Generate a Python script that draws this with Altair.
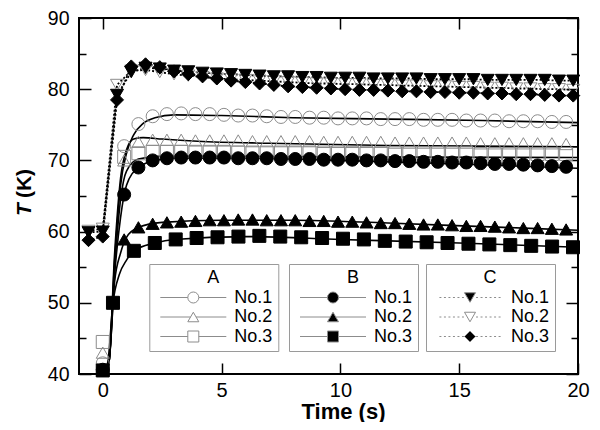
import altair as alt
import pandas as pd

# ---------------- values ----------------
SERIES = ["A1", "A2", "A3", "B1", "B2", "B3", "C1", "C2", "C3"]
LEG_LABELS = ["No.1", "No.2", "No.3"]

# sampling times of the measured points (s)
T_C = [-0.6, 0.0, 0.6, 1.2, 1.8, 2.4, 3.0, 3.6, 4.2, 4.8, 5.4, 6.0, 6.6, 7.2, 7.8,
       8.4, 9.0, 9.6, 10.2, 10.8, 11.4, 12.0, 12.6, 13.2, 13.8, 14.4, 15.0, 15.6,
       16.2, 16.8, 17.4, 18.0, 18.6, 19.2, 19.8]
T_AB = [0.0, 0.9, 1.5, 2.1, 2.7, 3.3, 3.9, 4.5, 5.1, 5.7, 6.3, 6.9, 7.5, 8.1,
        8.7, 9.3, 9.9, 10.5, 11.1, 11.7, 12.3, 12.9, 13.5, 14.1, 14.7, 15.3, 15.9,
        16.5, 17.1, 17.7, 18.3, 18.9, 19.5]
T_B3 = [0.0, 0.43, 1.31, 2.19, 3.07, 3.95, 4.83, 5.71, 6.59, 7.47, 8.35, 9.23,
        10.11, 10.99, 11.87, 12.75, 13.63, 14.51, 15.39, 16.27, 17.15, 18.03,
        18.91, 19.79]

# measured temperatures (K)
A1 = [41.5, 72.0, 75.1, 76.2, 76.5, 76.6, 76.5, 76.5, 76.4, 76.3, 76.3, 76.2,
      76.1, 76.1, 76.0, 76.0, 75.9, 75.9, 75.9, 75.8, 75.8, 75.8, 75.7, 75.7, 75.7,
      75.6, 75.6, 75.6, 75.5, 75.5, 75.5, 75.4, 75.4]
A2 = [43.0, 70.0, 72.6, 72.9, 72.9, 72.9, 72.8, 72.8, 72.8, 72.8, 72.7, 72.7,
      72.7, 72.7, 72.7, 72.6, 72.6, 72.6, 72.6, 72.6, 72.5, 72.5, 72.5, 72.5, 72.5,
      72.5, 72.4, 72.4, 72.4, 72.4, 72.4, 72.4, 72.3]
A3 = [44.5, 70.5, 71.0, 71.2, 71.2, 71.2, 71.2, 71.2, 71.2, 71.1, 71.1, 71.1,
      71.1, 71.1, 71.1, 71.1, 71.1, 71.0, 71.0, 71.0, 71.0, 71.0, 71.0, 71.0, 71.0,
      71.0, 70.9, 70.9, 70.9, 70.9, 70.9, 70.9, 70.9]
B1 = [40.6, 65.2, 69.0, 70.0, 70.3, 70.4, 70.4, 70.4, 70.4, 70.3, 70.3, 70.3,
      70.2, 70.2, 70.2, 70.1, 70.1, 70.1, 70.0, 70.0, 69.9, 69.9, 69.8, 69.8, 69.7,
      69.7, 69.6, 69.5, 69.5, 69.4, 69.3, 69.2, 69.1]
B2 = [40.5, 58.9, 60.6, 61.1, 61.3, 61.4, 61.5, 61.6, 61.6, 61.7, 61.7, 61.6,
      61.6, 61.6, 61.5, 61.5, 61.4, 61.4, 61.3, 61.2, 61.2, 61.1, 61.0, 61.0, 60.9,
      60.8, 60.8, 60.7, 60.6, 60.5, 60.5, 60.4, 60.3]
B3 = [40.5, 50.0, 57.3, 58.4, 58.9, 59.1, 59.2, 59.3, 59.4, 59.3, 59.2, 59.1, 59.0,
      58.9, 58.7, 58.6, 58.5, 58.4, 58.3, 58.2, 58.1, 58.0, 57.9, 57.8]
C1 = [59.9, 60.0, 79.2, 82.4, 83.0, 82.9, 82.6, 82.5, 82.3, 82.2, 82.1, 82.0, 81.9,
      81.8, 81.8, 81.7, 81.7, 81.6, 81.6, 81.6, 81.5, 81.5, 81.5, 81.5, 81.4, 81.4,
      81.4, 81.4, 81.3, 81.3, 81.3, 81.3, 81.3, 81.2, 81.2]
C2 = [60.1, 60.4, 80.6, 82.6, 82.7, 82.4, 82.1, 81.9, 81.7, 81.5, 81.4, 81.3, 81.2,
      81.1, 81.0, 80.9, 80.8, 80.8, 80.7, 80.7, 80.6, 80.6, 80.5, 80.5, 80.4, 80.4,
      80.3, 80.3, 80.2, 80.2, 80.1, 80.1, 80.0, 80.0, 79.9]
C3 = [58.8, 59.3, 78.5, 83.2, 83.5, 83.1, 82.5, 82.1, 81.8, 81.5, 81.2, 81.0, 80.8,
      80.6, 80.4, 80.3, 80.2, 80.1, 80.0, 79.9, 79.9, 79.8, 79.7, 79.7, 79.6, 79.6,
      79.5, 79.5, 79.4, 79.4, 79.3, 79.3, 79.2, 79.1, 79.1]

# solid (calculated) curves
LA1_T = [0.0, 0.25, 0.5, 0.75, 1.0, 1.3, 1.7, 2.2, 3.0, 5.0, 8.0, 12.0, 16.0, 20.0]
LA1 = [40.5, 41.5, 56.0, 66.5, 71.0, 73.6, 75.2, 76.0, 76.4, 76.3, 76.0, 75.8, 75.6, 75.3]
LA2_T = [0.0, 0.25, 0.5, 0.75, 1.0, 1.3, 1.7, 2.5, 4.0, 7.0, 12.0, 20.0]
LA2 = [40.5, 41.5, 57.0, 67.5, 71.5, 73.0, 73.2, 73.0, 72.7, 72.4, 72.1, 71.9]
LA3_T = [0.0, 0.25, 0.5, 0.75, 1.0, 1.5, 2.5, 5.0, 10.0, 20.0]
LA3 = [40.5, 41.5, 55.0, 64.5, 68.5, 70.2, 70.6, 70.6, 70.5, 70.4]
LB1_T = [0.0, 0.25, 0.5, 0.75, 1.0, 1.5, 2.2, 3.0, 6.0, 10.0, 15.0, 20.0]
LB1 = [40.5, 41.5, 54.0, 62.0, 66.5, 69.0, 70.0, 70.3, 70.3, 70.0, 69.5, 68.9]
LB2_T = [0.0, 0.25, 0.5, 0.75, 1.0, 1.5, 2.5, 5.0, 8.0, 12.0, 16.0, 20.0]
LB2 = [40.5, 41.5, 53.0, 57.0, 59.2, 60.6, 61.3, 61.6, 61.6, 61.2, 60.7, 60.2]
LB3_T = [0.0, 0.2, 0.43, 0.7, 1.0, 1.31, 2.2, 3.0, 6.0, 10.0, 15.0, 20.0]
LB3 = [40.5, 41.5, 50.0, 54.0, 56.0, 57.3, 58.4, 58.9, 59.3, 58.9, 58.4, 57.8]

X_TICKS = [0, 5, 10, 15, 20]
Y_TICKS = [40, 50, 60, 70, 80, 90]
Y_MINOR = [45, 55, 65, 75, 85]

# ---------------- styling ----------------
FONT = "Liberation Sans"
GRAY = "#8c8c8c"
W, H = 499, 356


def long_frame(groups):
    rows = []
    for name, ts, vs in groups:
        for t, v in zip(ts, vs):
            rows.append({"series": name, "t": t, "T": v})
    return pd.DataFrame(rows)


pts = long_frame([("A3", T_AB, A3), ("A2", T_AB, A2), ("A1", T_AB, A1),
                  ("B1", T_AB, B1), ("B2", T_AB, B2), ("B3", T_B3, B3),
                  ("C2", T_C, C2), ("C1", T_C, C1), ("C3", T_C, C3)])
cdf = long_frame([("C1", T_C, C1), ("C2", T_C, C2), ("C3", T_C, C3)])
mdf = long_frame([("A1", LA1_T, LA1), ("A2", LA2_T, LA2), ("A3", LA3_T, LA3),
                  ("B1", LB1_T, LB1), ("B2", LB2_T, LB2), ("B3", LB3_T, LB3)])
legdf = pd.DataFrame({"lab": LEG_LABELS, "t": [5, 5, 5], "T": [60, 60, 60]})

xscale = alt.Scale(domain=[-1, 20], nice=False, zero=False)
yscale = alt.Scale(domain=[40, 90], nice=False, zero=False)

SHAPES = ["circle", "triangle-up", "square", "circle", "triangle-up", "square",
          "triangle-down", "triangle-down", "diamond"]
FILLS = ["transparent", "transparent", "transparent", "black", "black", "black",
         "black", "transparent", "black"]
STROKES = [GRAY, GRAY, GRAY, "black", "black", "black", "black", GRAY, "black"]
SIZES = [169, 169, 132, 160, 169, 132, 144, 144, 160]

TICK = dict(labels=False, domain=False, grid=False, ticks=True, tickColor="black",
            tickWidth=1.5, title=None)

ax_x_main = alt.Axis(orient="bottom", values=X_TICKS, ticks=False, tickSize=0,
                     domain=False, grid=False, labelFont=FONT, labelFontSize=20,
                     labelColor="black", labelPadding=6, labelFlush=False,
                     title="Time (s)", titleFont=FONT, titleFontSize=22,
                     titleFontWeight="bold", titleColor="black", titleX=264,
                     titleY=44, titleBaseline="alphabetic", titleAlign="center")
ax_y_main = alt.Axis(orient="left", values=Y_TICKS, ticks=False, tickSize=0,
                     domain=False, grid=False, labelFont=FONT, labelFontSize=19.5,
                     labelColor="black", labelPadding=10, title="(K)",
                     titleFont=FONT, titleFontSize=21, titleFontWeight="bold",
                     titleColor="black", titleAngle=270, titleX=-55, titleY=165,
                     titleAlign="center", titleBaseline="middle")

# custom legend symbols: line sample + marker, in symbol units
P_CIRCLE = "M1,0A1,1,0,1,1,-1,0A1,1,0,1,1,1,0Z"
P_TRI_UP = "M0,-0.866L-1,0.866L1,0.866Z"
P_SQUARE = "M-1,-1L1,-1L1,1L-1,1Z"
P_TRI_DN = "M0,0.866L-1,-0.866L1,-0.866Z"
P_DIAMOND = "M-1,0L0,-1L1,0L0,1Z"


def solid(a, b=6):
    return f"M{-b},0L{-a},0M{a},0L{b},0"


def dotted(a, b=6, dash=0.36, gap=0.46):
    segs = []
    x = a
    while x < b - 1e-9:
        e = min(x + dash, b)
        segs.append(f"M{x:.2f},0L{e:.2f},0M{-x:.2f},0L{-e:.2f},0")
        x += dash + gap
    return "".join(segs)


SOLID_PATHS = [solid(1) + P_CIRCLE, solid(0.5) + P_TRI_UP, solid(1) + P_SQUARE]
DOT_PATHS = [dotted(1.1) + P_TRI_DN, dotted(1.1) + P_TRI_DN, dotted(1.1) + P_DIAMOND]


def legend_props(title, lx, **extra):
    d = dict(title=title, orient="none", legendX=lx, legendY=246,
             direction="vertical", titleAnchor="middle", titleFont=FONT,
             titleFontSize=18, titleFontWeight="normal", titleColor="black",
             titlePadding=1.5, labelFont=FONT, labelFontSize=18,
             labelColor="black", labelExpr="datum.label + ' '",
             strokeColor="#9a9a9a", fillColor="white", padding=5,
             symbolSize=121, symbolStrokeWidth=1, symbolOffset=30,
             labelOffset=32, rowPadding=1.5, symbolOpacity=1,
             symbolStrokeColor=GRAY)
    d.update(extra)
    return alt.Legend(**d)


clines = alt.Chart(cdf).mark_line(color="black", strokeWidth=1.8,
                                  strokeDash=[2, 2]).encode(
    x=alt.X("t:Q", scale=xscale, axis=ax_x_main),
    y=alt.Y("T:Q", scale=yscale, axis=ax_y_main),
    detail="series:N",
)

mlines = alt.Chart(mdf).mark_line(color="black", strokeWidth=1.6,
                                  interpolate="monotone").encode(
    x=alt.X("t:Q", scale=xscale,
            axis=alt.Axis(orient="top", offset=-H, values=X_TICKS, tickSize=11, **TICK)),
    y=alt.Y("T:Q", scale=yscale,
            axis=alt.Axis(orient="right", offset=-W, values=Y_TICKS, tickSize=12, **TICK)),
    detail="series:N",
)

points = alt.Chart(pts).mark_point(strokeWidth=1, opacity=1).encode(
    x=alt.X("t:Q", scale=xscale,
            axis=alt.Axis(orient="bottom", offset=-H, values=X_TICKS, tickSize=11, **TICK)),
    y=alt.Y("T:Q", scale=yscale,
            axis=alt.Axis(orient="left", offset=-W, values=Y_TICKS, tickSize=12, **TICK)),
    shape=alt.Shape("series:N", scale=alt.Scale(domain=SERIES, range=SHAPES), legend=None),
    fill=alt.Fill("series:N", scale=alt.Scale(domain=SERIES, range=FILLS), legend=None),
    stroke=alt.Stroke("series:N", scale=alt.Scale(domain=SERIES, range=STROKES), legend=None),
    size=alt.Size("series:N", scale=alt.Scale(domain=SERIES, range=SIZES), legend=None),
)

legA = alt.Chart(legdf).mark_point(opacity=0, fill="transparent", stroke=GRAY,
                                   strokeWidth=1, size=121).encode(
    x=alt.X("t:Q", scale=xscale, axis=None),
    y=alt.Y("T:Q", scale=yscale,
            axis=alt.Axis(orient="right", offset=-W, values=Y_MINOR, tickSize=7,
                          labels=False, domain=False, grid=False, ticks=True,
                          tickColor="black", tickWidth=1.5, title="T",
                          titleFont=FONT, titleFontSize=21, titleFontWeight="bold",
                          titleFontStyle="italic", titleColor="black",
                          titleAngle=270, titleX=-55, titleY=191,
                          titleAlign="center", titleBaseline="middle")),
    shape=alt.Shape("lab:N", scale=alt.Scale(domain=LEG_LABELS, range=SOLID_PATHS),
                    legend=legend_props("A", 70.3)),
)

legB_props = legend_props("B", 210)
legB = alt.Chart(legdf).mark_point(opacity=0, fill="black", strokeWidth=1,
                                   size=121).encode(
    x=alt.X("t:Q", scale=xscale, axis=None),
    y=alt.Y("T:Q", scale=yscale,
            axis=alt.Axis(orient="left", offset=-W, values=Y_MINOR, tickSize=7, **TICK)),
    shape=alt.Shape("lab:N", scale=alt.Scale(domain=LEG_LABELS, range=SOLID_PATHS),
                    legend=legB_props),
    stroke=alt.Stroke("lab:N", scale=alt.Scale(domain=LEG_LABELS,
                                               range=[GRAY, GRAY, GRAY]),
                      legend=legB_props),
)

legC_props = legend_props("C", 347, symbolFillColor="black")
legC = alt.Chart(legdf).mark_point(opacity=0, stroke=GRAY, strokeWidth=1,
                                   size=121).encode(
    x=alt.X("t:Q", scale=xscale, axis=None),
    y=alt.Y("T:Q", scale=yscale, axis=None),
    shape=alt.Shape("lab:N", scale=alt.Scale(domain=LEG_LABELS, range=DOT_PATHS),
                    legend=legC_props),
    fill=alt.Fill("lab:N", scale=alt.Scale(domain=LEG_LABELS,
                                           range=["black", "transparent", "black"]),
                  legend=legC_props),
)

chart = alt.layer(clines, mlines, points, legA, legB, legC).resolve_scale(
    shape="independent", fill="independent", stroke="independent", size="independent"
).resolve_axis(x="independent", y="independent").resolve_legend(
    shape="independent", fill="independent", stroke="independent"
).properties(
    width=W, height=H,
    autosize=alt.AutoSizeParams(type="none"),
    padding={"left": 71, "top": 10, "right": 14, "bottom": 48},
).configure_view(stroke="black", strokeWidth=2)

chart.save("out.html", embed_options={"renderer": "svg", "actions": False})
